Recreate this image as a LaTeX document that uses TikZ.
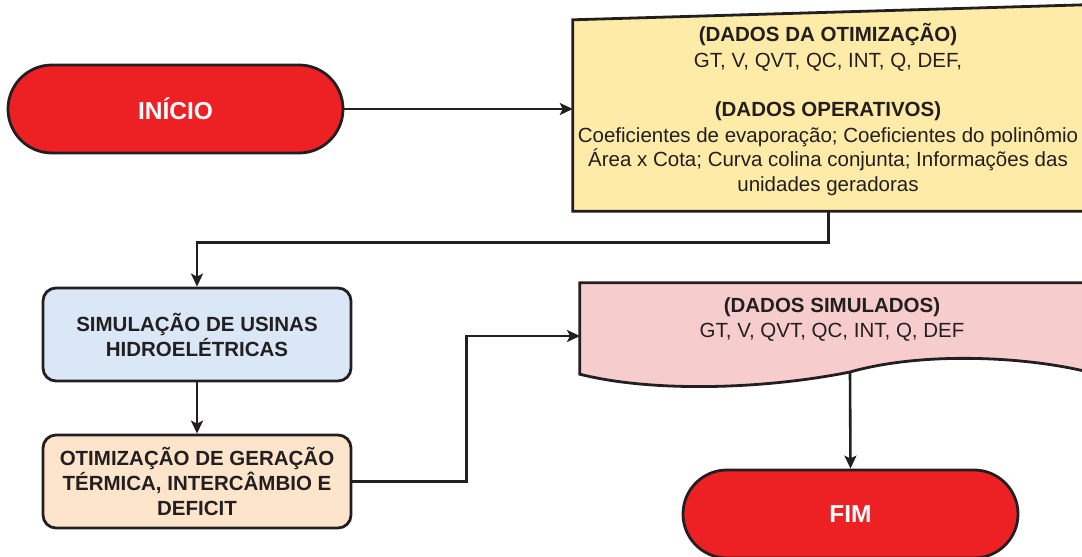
\documentclass[tikz,border=0pt]{standalone}
\usepackage{fontspec}
\setmainfont{Liberation Sans}
\usetikzlibrary{arrows.meta,calc}
\definecolor{ink}{HTML}{231F20}
\definecolor{termred}{HTML}{ED2024}
\definecolor{inputyellow}{HTML}{FEEBA8}
\definecolor{docpink}{HTML}{F7CCCC}
\definecolor{procblue}{HTML}{DAE7F6}
\definecolor{procorange}{HTML}{FDE5CC}
\tikzset{
  txt/.style={font=\fontsize{20.5}{25}\selectfont, text=ink, align=center, inner sep=0pt},
  terminal/.style={draw=ink, line width=2.8pt, fill=termred, rounded corners=44pt,
    minimum width=335pt, minimum height=88pt, text=white,
    font=\fontsize{24.5}{28}\selectfont\bfseries},
  process/.style={draw=ink, line width=2.8pt, rounded corners=13pt,
    minimum width=308pt, minimum height=93pt, txt, font=\fontsize{20.5}{25}\selectfont\bfseries},
  frame/.style={draw=none, inner sep=0pt},
  border/.style={draw=ink, line width=2.8pt, line join=miter},
  flow/.style={draw=ink, line width=2.6pt,
    -{Stealth[length=13pt,width=12pt,inset=3pt]}}
}
\begin{document}
\begin{tikzpicture}[x=1pt,y=-1pt]
\useasboundingbox (0,0) rectangle (1082,557);
\clip (0,0) rectangle (1082,557);

% start terminal
\node[terminal] (inicio) at (175.5,109) {INÍCIO};

% manual input: optimisation and operating data
\node[frame, minimum width=511pt, minimum height=191pt] (dados) at (828.5,115.5) {};
\filldraw[border, fill=inputyellow]
  (dados.south west) -- (dados.north west) -- ($(dados.north east)+(0,-15)$)
  -- (dados.south east) -- cycle;
\node[txt] (dadostxt) at (828,110)
  {\textbf{(DADOS DA OTIMIZAÇÃO)}\\
   GT, V, QVT, QC, INT, Q, DEF,\\[25pt]
   \textbf{(DADOS OPERATIVOS)}\\
   Coeficientes de evaporação; Coeficientes do polinômio\\
   Área x Cota; Curva colina conjunta; Informações das\\
   unidades geradoras};

% processes
\node[process, fill=procblue] (sim) at (197,334.5)
  {SIMULAÇÃO DE USINAS\\HIDROELÉTRICAS};
\node[process, fill=procorange] (otim) at (197,481.5)
  {OTIMIZAÇÃO DE GERAÇÃO\\TÉRMICA, INTERCÂMBIO E\\DEFICIT};

% document: simulated data
\node[frame, minimum width=504pt, minimum height=91pt] (simdoc) at (832,328.5) {};
\filldraw[border, fill=docpink]
  (simdoc.south west) -- (simdoc.north west) -- (simdoc.north east) -- (1084,371)
  .. controls (1020,356) and (920,352) .. (850,372)
  .. controls (760,390) and (650,392) .. (simdoc.south west) -- cycle;
\node[txt] (simtxt) at (832,320)
  {\textbf{(DADOS SIMULADOS)}\\GT, V, QVT, QC, INT, Q, DEF};
\coordinate (simin) at (580,336);
\coordinate (simout) at (850,372);

% end terminal
\node[terminal] (fim) at (850.5,514) {FIM};

% connectors
\draw[flow] (inicio.east) -- (inicio.east -| dados.west);
\draw[flow] (dados.south) -- ++(0,31) -| (sim.north);
\draw[flow] (sim.south) -- (otim.north);
\draw[flow] (otim.east) -- ++(114,0) |- (simin);
\draw[flow] (simout) -- (fim.north);
\end{tikzpicture}
\end{document}
